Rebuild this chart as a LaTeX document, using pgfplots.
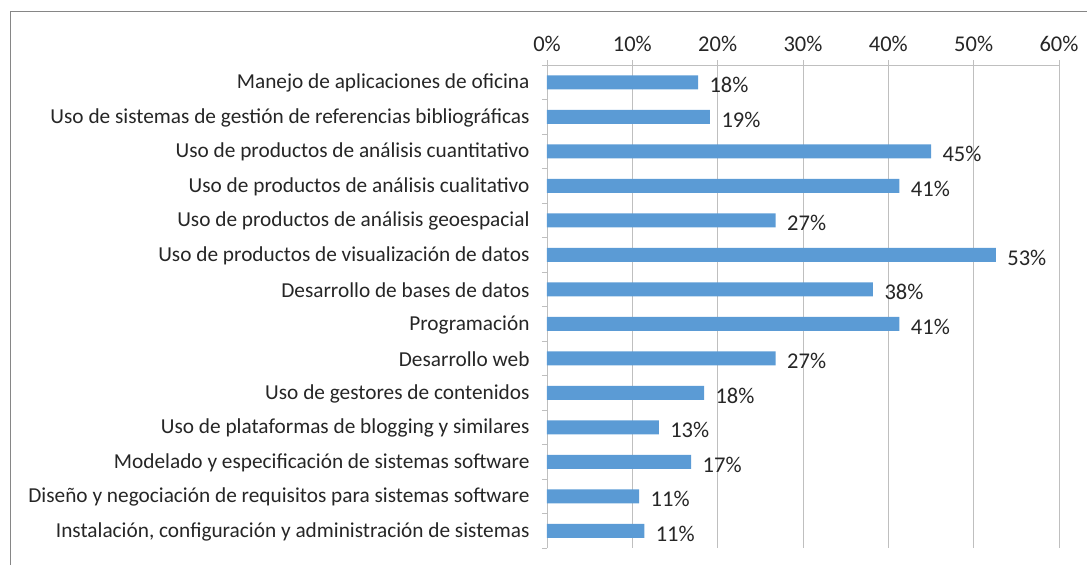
\documentclass[border=0pt]{standalone}
\usepackage{fontspec}
\setmainfont{Carlito}
\usepackage{pgfplots}
\pgfplotsset{compat=1.18}
\definecolor{barblue}{HTML}{5B9BD5}
\definecolor{gridgray}{HTML}{BFBFBF}
\definecolor{framegray}{HTML}{868686}
\definecolor{txt}{HTML}{262626}
\begin{document}
\begin{tikzpicture}[x=1pt,y=1pt]
\path[use as bounding box] (0,0) rectangle (1087,565);
\draw[framegray,line width=1pt] (10,0) -- (10,553) -- (1087,553);
\begin{axis}[
  at={(547pt,17pt)}, anchor=south west,
  scale only axis, width=512pt, height=483pt,
  xmin=0, xmax=60, ymin=0.5, ymax=14.5, y dir=reverse,
  axis x line*=top, axis y line*=left,
  axis line style={gridgray, line width=0.8pt},
  xtick={0,10,...,60},
  xticklabels={0\%,10\%,20\%,30\%,40\%,50\%,60\%},
  xmajorgrids, grid style={gridgray, line width=0.8pt},
  major x tick style={gridgray, line width=0.8pt},
  xtick align=outside, major tick length=5pt,
  ytick={1,...,14},
  yticklabels={Manejo de aplicaciones de oficina,
    Uso de sistemas de gestión de referencias bibliográficas,
    Uso de productos de análisis cuantitativo,
    Uso de productos de análisis cualitativo,
    Uso de productos de análisis geoespacial,
    Uso de productos de visualización de datos,
    Desarrollo de bases de datos,
    Programación,
    Desarrollo web,
    Uso de gestores de contenidos,
    Uso de plataformas de blogging y similares,
    Modelado y especificación de sistemas software,
    Diseño y negociación de requisitos para sistemas software,
    Instalación{,} configuración y administración de sistemas},
  major y tick style={draw=none},
  minor ytick={0.5,1.5,...,14.5},
  minor y tick style={gridgray, line width=0.8pt},
  minor tick length=5pt,
  ytick align=outside,
  yticklabel style={font=\fontsize{21.3}{24}\selectfont, text=txt, xshift=-9pt, yshift=-1pt},
  xticklabel style={font=\fontsize{22.5}{25}\selectfont, text=txt, yshift=5pt},
  /pgf/number format/assume math mode=true,
  nodes near coords={\pgfmathprintnumber[fixed,precision=0]{\pgfplotspointmeta}\%},
  point meta=x,
  every node near coord/.append style={font=\fontsize{22.5}{25}\selectfont, text=txt, anchor=west, xshift=8pt, yshift=-3pt},
  clip=false,
]
\addplot[xbar, bar width=14pt, fill=barblue, draw=none] coordinates {
(17.7,1) (19.1,2) (45.0,3) (41.3,4) (26.8,5) (52.6,6) (38.2,7)
(41.3,8) (26.8,9) (18.4,10) (13.1,11) (16.9,12) (10.8,13) (11.4,14)
};
\end{axis}
\end{tikzpicture}
\end{document}
